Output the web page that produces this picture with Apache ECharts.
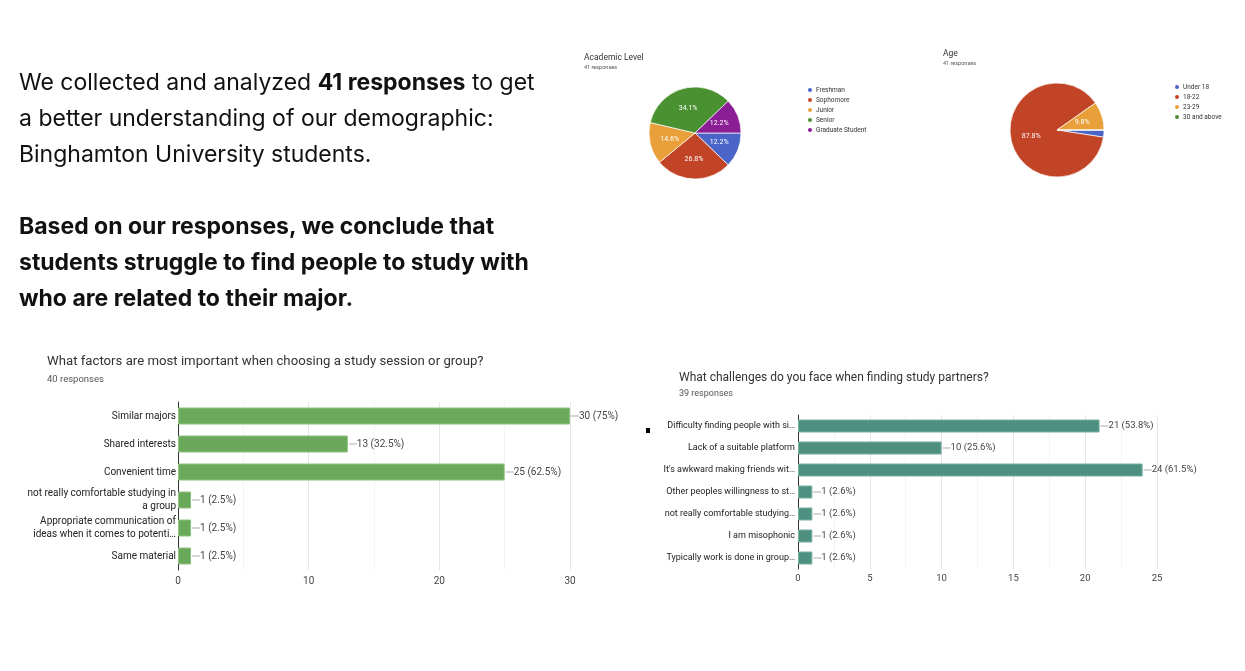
<!DOCTYPE html>
<html lang="en">
<head>
    <meta charset="UTF-8">
    <title>Survey results</title>
    <script src="https://cdn.jsdelivr.net/npm/echarts@6/dist/echarts.min.js"></script>
</head>
<style>
    html, body {margin: 0; padding: 0; background: #fff;}
    .page {position: relative; width: 1245px; height: 671px; overflow: hidden;}
    #main {position: absolute; left: 0; top: 0; width: 1245px; height: 671px;}
    .intro {position: absolute; left: 19px; top: 64px; width: 560px; font-family: Inter, sans-serif; font-size: 23px; line-height: 36px; color: #111;}
    .intro p {margin: 0 0 36px 0;}
    .intro b {font-weight: 700;}
</style>
<body>
<div class="page">
    <div id="main"></div>
    <div class="intro">
        <p>We collected and analyzed <b>41 responses</b> to get<br>a better understanding of our demographic:<br>Binghamton University students.</p>
        <p><b>Based on our responses, we conclude that<br>students struggle to find people to study with<br>who are related to their major.</b></p>
    </div>
</div>
<script type="text/javascript">
    // pie data
    var levelNames = ['Freshman', 'Sophomore', 'Junior', 'Senior', 'Graduate Student'];
    var levelCounts = [5, 11, 6, 14, 5];
    var levelColors = ['#4a64c8', '#c24427', '#e9a03a', '#4a9131', '#8b1d95'];

    var ageNames = ['Under 18', '18-22', '23-29', '30 and above'];
    var ageCounts = [1, 36, 4, 0];
    var ageColors = ['#4a64c8', '#c24427', '#e9a03a', '#4a9131'];

    // bar data
    var factorNames = ['Similar majors', 'Shared interests', 'Convenient time',
        'not really comfortable studying in\na group',
        'Appropriate communication of\nideas when it comes to potenti\u2026',
        'Same material'];
    var factorCounts = [30, 13, 25, 1, 1, 1];
    var factorResponses = 40;

    var challengeNames = ['Difficulty finding people with si\u2026', 'Lack of a suitable platform',
        'It\'s awkward making friends wit\u2026', 'Other peoples willingness to st\u2026',
        'not really comfortable studying\u2026', 'I am misophonic', 'Typically work is done in group\u2026'];
    var challengeCounts = [21, 10, 24, 1, 1, 1, 1];
    var challengeResponses = 39;

    var font = 'Roboto, Arial, sans-serif';

    function sum(arr) {
        var s = 0;
        for (var i = 0; i < arr.length; i++) s += arr[i];
        return s;
    }
    function pieItems(names, counts, colors) {
        var out = [];
        for (var i = 0; i < names.length; i++) {
            out.push({name: names[i], value: counts[i], itemStyle: {color: colors[i]}});
        }
        return out;
    }
    function pctText(v, total) {
        var p = (v / total * 100).toFixed(1);
        if (p.slice(-2) === '.0') p = p.slice(0, -2);
        return p;
    }
    function pieLabel(total) {
        return function (params) {
            if (params.value / total < 0.05) return '';
            return (params.value / total * 100).toFixed(1) + '%';
        };
    }
    function barLabel(total) {
        return function (params) {
            return '{l|}' + params.value + ' (' + pctText(params.value, total) + '%)';
        };
    }

    var myChart = echarts.init(document.getElementById('main'));

    var option = {
        animation: false,
        textStyle: {fontFamily: font},
        title: [
            {text: 'Academic Level', subtext: '41 responses', left: 584, top: 53, itemGap: 3, padding: 0,
                textStyle: {fontSize: 8.5, fontWeight: 'normal', color: '#333', fontFamily: font},
                subtextStyle: {fontSize: 5.5, color: '#555', fontFamily: font}},
            {text: 'Age', subtext: '41 responses', left: 943, top: 49, itemGap: 3, padding: 0,
                textStyle: {fontSize: 8.5, fontWeight: 'normal', color: '#333', fontFamily: font},
                subtextStyle: {fontSize: 5.5, color: '#555', fontFamily: font}},
            {text: 'What factors are most important when choosing a study session or group?', subtext: '40 responses',
                left: 47, top: 355, itemGap: 7, padding: 0,
                textStyle: {fontSize: 13.2, fontWeight: 'normal', color: '#333', fontFamily: font},
                subtextStyle: {fontSize: 9.5, color: '#555', fontFamily: font}},
            {text: 'What challenges do you face when finding study partners?', subtext: '39 responses',
                left: 679, top: 372, itemGap: 5, padding: 0,
                textStyle: {fontSize: 12, fontWeight: 'normal', color: '#333', fontFamily: font},
                subtextStyle: {fontSize: 9, color: '#555', fontFamily: font}}
        ],
        legend: [
            {data: levelNames, orient: 'vertical', left: 806, top: 86, padding: 0, itemWidth: 6, itemHeight: 6, itemGap: 2,
                icon: 'circle', textStyle: {fontSize: 6.5, color: '#333', padding: [0, 0, 0, -2]}},
            {data: ageNames, orient: 'vertical', left: 1173, top: 83, padding: 0, itemWidth: 6, itemHeight: 6, itemGap: 2,
                icon: 'circle', textStyle: {fontSize: 6.5, color: '#333', padding: [0, 0, 0, -2]}}
        ],
        grid: [
            {left: 178, width: 392, top: 402, height: 168},
            {left: 798, width: 359, top: 415, height: 154}
        ],
        xAxis: [
            {gridIndex: 0, type: 'value', min: 0, max: 30, interval: 10,
                axisLine: {show: false}, axisTick: {show: false},
                axisLabel: {fontSize: 10, color: '#444', margin: 6},
                splitLine: {lineStyle: {color: '#e6e6e6'}},
                minorTick: {show: false, splitNumber: 2},
                minorSplitLine: {show: true, lineStyle: {color: '#f4f4f4'}}},
            {gridIndex: 1, type: 'value', min: 0, max: 25, interval: 5,
                axisLine: {show: false}, axisTick: {show: false},
                axisLabel: {fontSize: 9.5, color: '#444', margin: 5},
                splitLine: {lineStyle: {color: '#e6e6e6'}},
                minorTick: {show: false, splitNumber: 2},
                minorSplitLine: {show: true, lineStyle: {color: '#f4f4f4'}}}
        ],
        yAxis: [
            {gridIndex: 0, type: 'category', data: factorNames, inverse: true,
                axisLine: {lineStyle: {color: '#333'}}, axisTick: {show: false},
                axisLabel: {fontSize: 10, color: '#222', margin: 2, lineHeight: 13}},
            {gridIndex: 1, type: 'category', data: challengeNames, inverse: true,
                axisLine: {lineStyle: {color: '#333'}}, axisTick: {show: false},
                axisLabel: {fontSize: 9, color: '#222', margin: 3}}
        ],
        series: [
            {type: 'pie', name: 'Academic Level', center: [695, 133], radius: 46, startAngle: 0,
                data: pieItems(levelNames, levelCounts, levelColors),
                itemStyle: {borderColor: '#fff', borderWidth: 0.7},
                label: {position: 'inside', formatter: pieLabel(sum(levelCounts)), color: '#fff', fontSize: 7},
                labelLine: {show: false}},
            {type: 'pie', name: 'Age', center: [1057, 130], radius: 47, startAngle: 0,
                data: pieItems(ageNames, ageCounts, ageColors),
                itemStyle: {borderColor: '#fff', borderWidth: 0.7},
                label: {position: 'inside', formatter: pieLabel(sum(ageCounts)), color: '#fff', fontSize: 7},
                labelLine: {show: false}},
            {type: 'bar', xAxisIndex: 0, yAxisIndex: 0, data: factorCounts, barWidth: 17,
                itemStyle: {color: '#6aa85a', borderColor: '#8cc47e', borderWidth: 1},
                label: {show: true, position: 'right', distance: 1, fontSize: 10, color: '#444',
                    formatter: barLabel(factorResponses),
                    rich: {l: {width: 8, height: 1, backgroundColor: '#aaa'}}}},
            {type: 'bar', xAxisIndex: 1, yAxisIndex: 1, data: challengeCounts, barWidth: 13,
                itemStyle: {color: '#4e9080', borderColor: '#78b0a2', borderWidth: 1},
                label: {show: true, position: 'right', distance: 1, fontSize: 9.5, color: '#444',
                    formatter: barLabel(challengeResponses),
                    rich: {l: {width: 8, height: 1, backgroundColor: '#aaa'}}}}
        ],
        graphic: [
            {type: 'rect', shape: {x: 646, y: 428, width: 4, height: 5}, style: {fill: '#000'}}
        ]
    };

    myChart.setOption(option);
</script>
</body>
</html>
